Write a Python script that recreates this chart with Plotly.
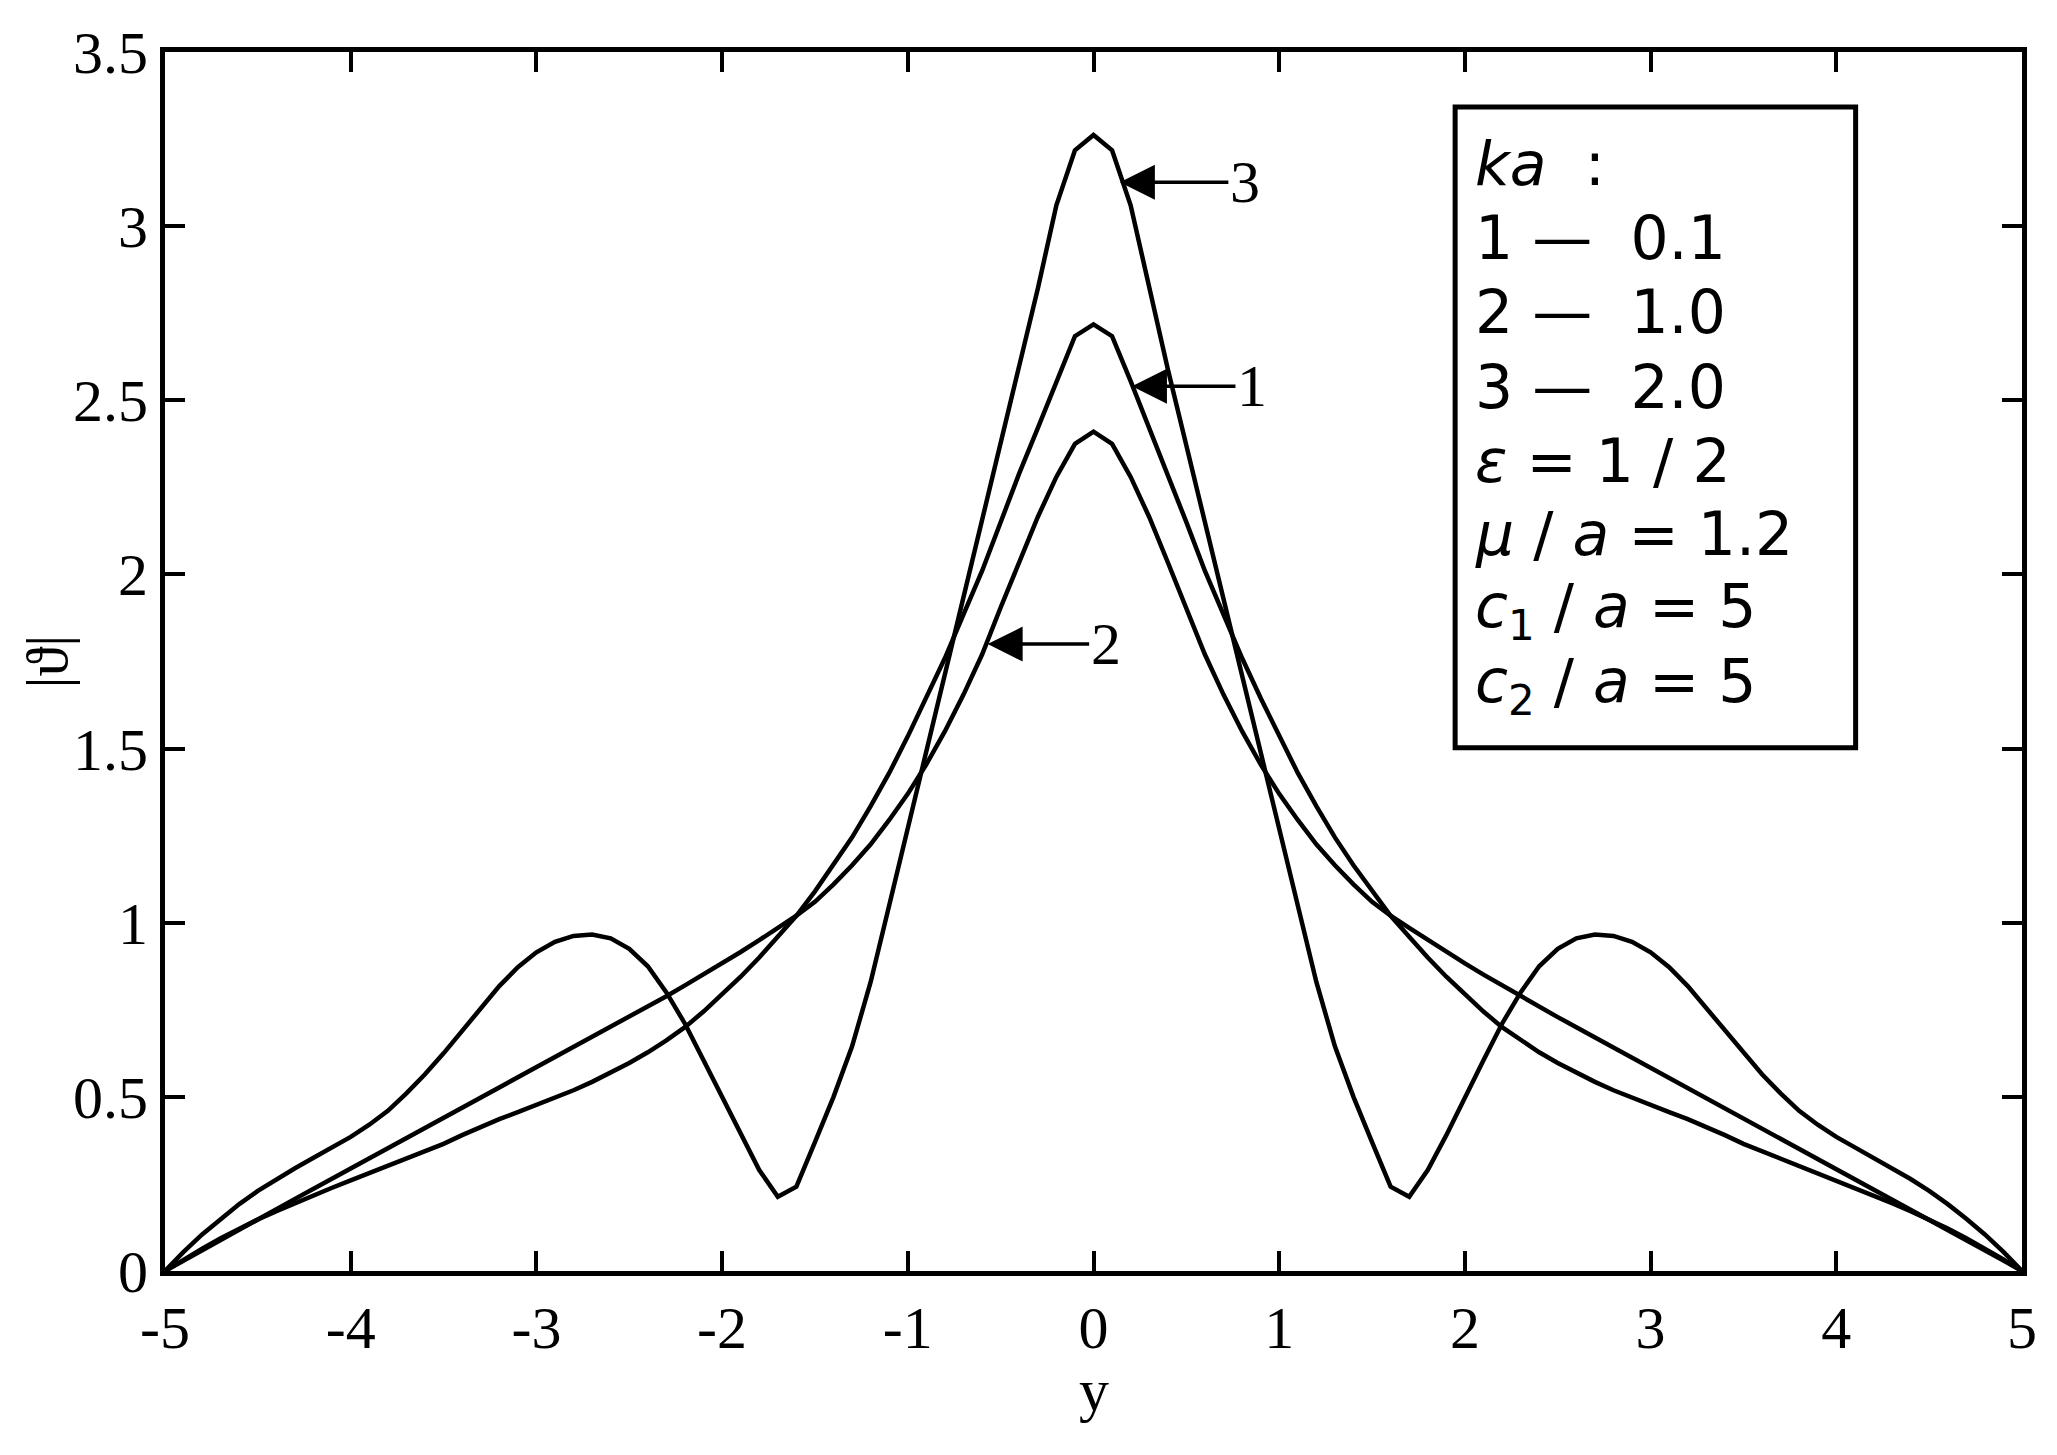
import plotly.graph_objects as go

# sampling grid of y (horizontal axis)
y_grid = [round(-5 + 0.1 * i, 1) for i in range(101)]

# |theta| for ka = 0.1 (curve 1), from y = -5.0 to 5.0 step 0.1
curve1 = [
    0.0, 0.033, 0.064, 0.094, 0.122, 0.148, 0.172, 0.195, 0.217, 0.239,
    0.26, 0.281, 0.302, 0.323, 0.344, 0.365, 0.39, 0.414, 0.436, 0.456,
    0.476, 0.497, 0.519, 0.543, 0.569, 0.597, 0.628, 0.662, 0.70, 0.745,
    0.795, 0.845, 0.90, 0.96, 1.02, 1.09, 1.165, 1.245, 1.335, 1.43,
    1.535, 1.645, 1.76, 1.885, 2.01, 2.15, 2.29, 2.42, 2.555, 2.684,
    2.718,
    2.684, 2.555, 2.42, 2.29, 2.15, 2.01, 1.885, 1.76, 1.645, 1.535,
    1.43, 1.335, 1.245, 1.165, 1.09, 1.02, 0.96, 0.90, 0.845, 0.795,
    0.745, 0.70, 0.662, 0.628, 0.597, 0.569, 0.543, 0.519, 0.497, 0.476,
    0.456, 0.436, 0.414, 0.39, 0.365, 0.344, 0.323, 0.302, 0.281, 0.26,
    0.239, 0.217, 0.195, 0.172, 0.148, 0.122, 0.094, 0.064, 0.033, 0.0,
]

# |theta| for ka = 1.0 (curve 2)
curve2 = [
    0.0, 0.03, 0.059, 0.089, 0.118, 0.148, 0.177, 0.207, 0.236, 0.265,
    0.294, 0.323, 0.352, 0.381, 0.41, 0.439, 0.468, 0.497, 0.526, 0.555,
    0.584, 0.613, 0.642, 0.671, 0.70, 0.729, 0.759, 0.789, 0.82, 0.851,
    0.883, 0.916, 0.95, 0.985, 1.02, 1.06, 1.11, 1.165, 1.225, 1.295,
    1.37, 1.455, 1.55, 1.655, 1.77, 1.905, 2.035, 2.165, 2.28, 2.375,
    2.41,
    2.375, 2.28, 2.165, 2.035, 1.905, 1.77, 1.655, 1.55, 1.455, 1.37,
    1.295, 1.225, 1.165, 1.11, 1.06, 1.02, 0.985, 0.95, 0.916, 0.883,
    0.851, 0.82, 0.789, 0.759, 0.729, 0.70, 0.671, 0.642, 0.613, 0.584,
    0.555, 0.526, 0.497, 0.468, 0.439, 0.41, 0.381, 0.352, 0.323, 0.294,
    0.265, 0.236, 0.207, 0.177, 0.148, 0.118, 0.089, 0.059, 0.03, 0.0,
]

# |theta| for ka = 2.0 (curve 3)
curve3 = [
    0.0, 0.055, 0.105, 0.15, 0.192, 0.23, 0.264, 0.295, 0.325, 0.355,
    0.385, 0.42, 0.46, 0.51, 0.565, 0.625, 0.69, 0.755, 0.818, 0.872,
    0.915, 0.945, 0.962, 0.966, 0.955, 0.925, 0.875, 0.80, 0.71, 0.605,
    0.50, 0.39, 0.29, 0.213, 0.242, 0.37, 0.50, 0.645, 0.83, 1.05,
    1.27, 1.49, 1.71, 1.93, 2.15, 2.37, 2.59, 2.82, 3.06, 3.218,
    3.262,
    3.218, 3.06, 2.82, 2.59, 2.37, 2.15, 1.93, 1.71, 1.49, 1.27,
    1.05, 0.83, 0.645, 0.50, 0.37, 0.242, 0.213, 0.29, 0.39, 0.50,
    0.605, 0.71, 0.80, 0.875, 0.925, 0.955, 0.966, 0.962, 0.945, 0.915,
    0.872, 0.818, 0.755, 0.69, 0.625, 0.565, 0.51, 0.46, 0.42, 0.385,
    0.355, 0.325, 0.295, 0.264, 0.23, 0.192, 0.15, 0.105, 0.055, 0.0,
]

x_ticks = [-5, -4, -3, -2, -1, 0, 1, 2, 3, 4, 5]
x_tick_text = ["-5", "-4", "-3", "-2", "-1", "0", "1", "2", "3", "4", "5"]
y_ticks = [0, 0.5, 1, 1.5, 2, 2.5, 3, 3.5]
y_tick_text = ["0", "0.5", "1", "1.5", "2", "2.5", "3", "3.5"]

legend_lines = [
    "<i>ka</i>\u00a0 :",
    "1 \u2014\u00a0 0.1",
    "2 \u2014\u00a0 1.0",
    "3 \u2014\u00a0 2.0",
    "<i>\u03b5</i> = 1 / 2",
    "<i>\u03bc</i> / <i>a</i> = 1.2",
    "<i>c</i><sub>1</sub> / <i>a</i> = 5",
    "<i>c</i><sub>2</sub> / <i>a</i> = 5",
]

# page body has an 8px default margin; figure sized to fill the window
W, H = 2041, 1439
L, R, T, B = 157, 20, 42, 176
PW = W - L - R
PH = H - T - B
OFF = 8


def px_x(X):
    return (X - OFF - L) / PW


def px_y(Y):
    return (H - B - (Y - OFF)) / PH


fig = go.Figure()
for ys in (curve1, curve2, curve3):
    fig.add_trace(go.Scatter(x=y_grid, y=ys, mode="lines",
                             line=dict(color="black", width=4.5),
                             showlegend=False, hoverinfo="skip"))

serif = "Liberation Serif, Times New Roman, serif"
sans = "DejaVu Sans, Verdana, sans-serif"

axis_common = dict(showline=True, linecolor="black", linewidth=5,
                   mirror="ticks", ticks="inside", ticklen=20, tickwidth=4,
                   tickcolor="black", showgrid=False, zeroline=False,
                   tickfont=dict(family=serif, size=60, color="black"))

fig.update_xaxes(range=[-5, 5], tickvals=x_ticks, ticktext=x_tick_text,
                 **axis_common)
fig.update_yaxes(range=[0, 3.5], tickvals=y_ticks, ticktext=y_tick_text,
                 **axis_common)

annotations = []
# axis titles
annotations.append(dict(text="y", xref="paper", yref="paper",
                        x=px_x(1097), y=px_y(1390), xanchor="center",
                        yanchor="middle", showarrow=False,
                        font=dict(family=serif, size=60, color="black")))
annotations.append(dict(text="|\u03d1|", xref="paper", yref="paper",
                        x=px_x(47), y=px_y(660), xanchor="center",
                        yanchor="middle", showarrow=False, textangle=-90,
                        font=dict(family=serif, size=60, color="black")))

# curve labels with arrows
arrow_specs = [("3", 0.142, 3.126, 125), ("1", 0.207, 2.54, 120),
               ("2", -0.57, 1.80, 118)]
for lab, xt, yt, ax in arrow_specs:
    annotations.append(dict(text=lab, x=xt, y=yt, xref="x", yref="y",
                            ax=ax, ay=0, showarrow=True, arrowhead=2,
                            arrowsize=2.0, arrowwidth=3.5, arrowcolor="black",
                            font=dict(family=serif, size=60, color="black")))

# legend text
line_centers = [162, 236, 310, 386, 460, 533, 609, 685]
for txt, yc in zip(legend_lines, line_centers):
    annotations.append(dict(text=txt, xref="paper", yref="paper",
                            x=px_x(1478), y=px_y(yc), xanchor="left",
                            yanchor="middle", showarrow=False,
                            font=dict(family=sans, size=60, color="black")))

fig.update_layout(
    width=W, height=H,
    margin=dict(l=L, r=R, t=T, b=B),
    paper_bgcolor="white", plot_bgcolor="white",
    annotations=annotations,
    shapes=[dict(type="rect", xref="paper", yref="paper",
                 x0=px_x(1460), x1=px_x(1862), y0=px_y(747), y1=px_y(105),
                 line=dict(color="black", width=5), fillcolor="rgba(0,0,0,0)")],
)

fig.write_html("out.html")
